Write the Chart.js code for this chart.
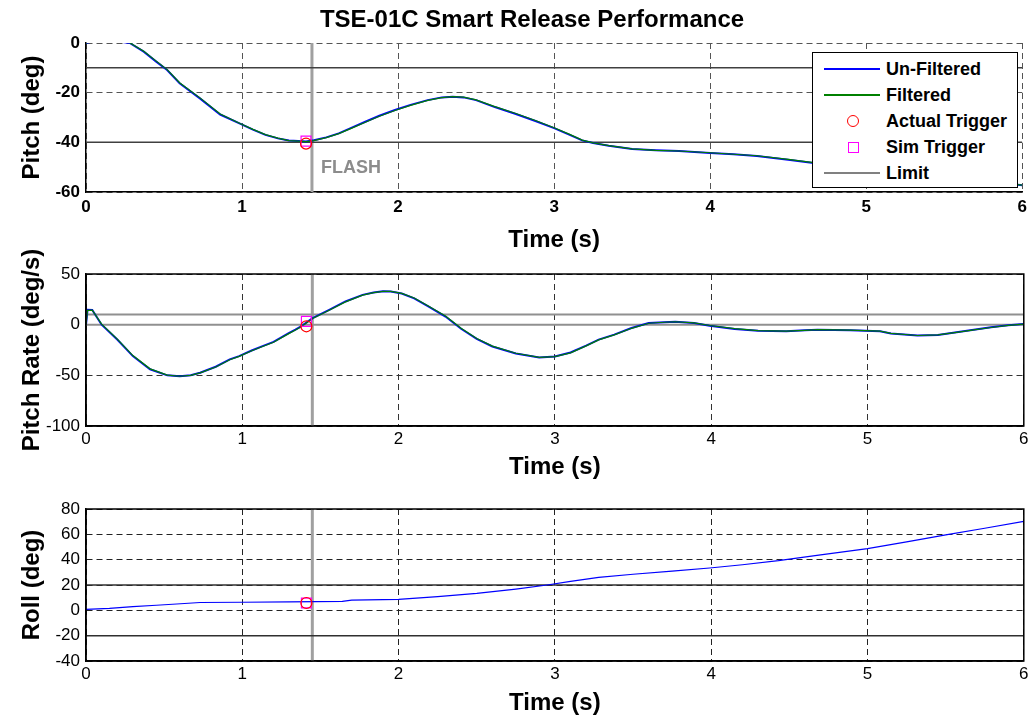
<!DOCTYPE html>
<html>
<head>
<meta charset="utf-8">
<script src="https://cdn.jsdelivr.net/npm/chart.js@4"></script>
<style>
html,body{margin:0;padding:0;background:#fff;}
body{width:1032px;height:719px;position:relative;overflow:hidden;font-family:"Liberation Sans",Arial,sans-serif;}
canvas{position:absolute;left:0;}
#title{position:absolute;top:5px;left:0;width:1064px;text-align:center;font-weight:bold;font-size:24px;line-height:28px;color:#000;z-index:5;}
#legend{position:absolute;left:812px;top:52px;width:206px;height:136px;box-sizing:border-box;border:1.5px solid #000;background:#fff;z-index:10;}
#legend .row{position:absolute;left:0;width:200px;height:26px;}
#legend .ln{position:absolute;left:11px;top:12px;width:56px;height:1.5px;}
#legend .circ{position:absolute;left:34px;top:7px;width:10px;height:10px;border:1px solid #ff0000;border-radius:50%;}
#legend .sq{position:absolute;left:35px;top:8px;width:9px;height:9px;border:1px solid #ff00ff;}
#legend .tx{position:absolute;left:73px;top:0;line-height:26px;font-weight:bold;font-size:18px;color:#000;white-space:nowrap;}
</style>
</head>
<body>
<div id="title">TSE-01C Smart Release Performance</div>
<canvas id="c1" width="1032" height="260" style="top:0px"></canvas>
<canvas id="c2" width="1032" height="255" style="top:235px"></canvas>
<canvas id="c3" width="1032" height="229" style="top:490px"></canvas>
<div id="legend">
  <div class="row" style="top:3px"><span class="ln" style="background:#0000ff"></span><span class="tx">Un-Filtered</span></div>
  <div class="row" style="top:29px"><span class="ln" style="background:#008000"></span><span class="tx">Filtered</span></div>
  <div class="row" style="top:55px"><span class="circ"></span><span class="tx">Actual Trigger</span></div>
  <div class="row" style="top:81px"><span class="sq"></span><span class="tx">Sim Trigger</span></div>
  <div class="row" style="top:107px"><span class="ln" style="background:#808080;height:2px"></span><span class="tx">Limit</span></div>
</div>
<script>
// ---------------- DATA ----------------
const xTicks = [0, 1, 2, 3, 4, 5, 6];

const timePitch = [0, 0.05, 0.1, 0.15, 0.2, 0.28, 0.37, 0.45, 0.52, 0.6, 0.73, 0.86, 0.98, 1.07, 1.15, 1.23, 1.3, 1.36, 1.41, 1.46, 1.54, 1.62, 1.7, 1.79, 1.88, 1.98, 2.08, 2.19, 2.28, 2.35, 2.42, 2.5, 2.62, 2.75, 2.88, 3.0, 3.1, 3.18, 3.25, 3.35, 3.5, 3.65, 3.8, 4.0, 4.15, 4.3, 4.5, 4.7, 4.85, 5.0, 5.25, 5.5, 5.75, 6.0];
const pitchUnfiltered = [0, 0.8, 1.2, 1.1, 0.7, 0, -3.5, -7.5, -10.9, -16.2, -22.3, -28.8, -32.3, -34.9, -37, -38.4, -39.3, -39.5, -39.7, -39.2, -38, -36.4, -34.2, -31.7, -29.3, -27, -24.9, -23, -21.9, -21.6, -21.9, -23, -25.8, -28.5, -31.4, -34.3, -37, -39.2, -40.3, -41.4, -42.7, -43.2, -43.5, -44.3, -44.8, -45.5, -47, -48.6, -49.5, -50.5, -52, -53.5, -55.5, -57.3];
const pitchFiltered   = [0, 0.7, 1.1, 1.1, 0.8, 0.1, -3.3, -7.3, -10.7, -16.0, -22.1, -28.6, -32.2, -34.8, -36.9, -38.3, -39.3, -39.5, -39.7, -39.3, -38.1, -36.5, -34.4, -31.9, -29.5, -27.2, -25.1, -23.1, -22.0, -21.6, -21.8, -22.9, -25.6, -28.3, -31.2, -34.1, -36.8, -39.1, -40.2, -41.3, -42.6, -43.2, -43.5, -44.2, -44.8, -45.4, -46.9, -48.5, -49.4, -50.4, -51.9, -53.4, -55.4, -57.2];

const timeRate = [0, 0.01, 0.04, 0.1, 0.2, 0.3, 0.41, 0.52, 0.6, 0.67, 0.73, 0.83, 0.92, 0.98, 1.06, 1.13, 1.2, 1.3, 1.34, 1.376, 1.45, 1.556, 1.66, 1.77, 1.84, 1.9, 1.95, 2.02, 2.1, 2.19, 2.3, 2.4, 2.5, 2.6, 2.75, 2.9, 3.0, 3.1, 3.2, 3.28, 3.38, 3.49, 3.6, 3.7, 3.77, 3.89, 3.99, 4.15, 4.3, 4.48, 4.6, 4.68, 4.89, 5.08, 5.15, 5.32, 5.45, 5.57, 5.68, 5.79, 5.9, 6.0];
const rateUnfiltered = [0, 14.7, 14.5, 0, -14.7, -31, -44, -50, -50.9, -50, -47.4, -41.5, -34.3, -31, -25.5, -21.2, -17, -8.2, -4.9, -1.6, 6.5, 14.7, 22.9, 29.4, 31.8, 32.9, 32.8, 30.7, 26, 18, 8, -4, -14, -21.5, -28.4, -32.3, -31.4, -27.5, -20.6, -14.7, -9.8, -3.3, 1.6, 2.5, 2.9, 1.6, -1, -4.2, -5.9, -6.5, -5.5, -4.9, -5.5, -6.5, -8.8, -10.8, -10.1, -7.5, -5, -2.6, -0.5, 0.6];
const rateFiltered   = [0, 14.2, 14.3, 0.5, -14.2, -30.5, -43.6, -49.8, -50.9, -50.1, -47.6, -41.8, -34.6, -31.3, -25.8, -21.5, -17.3, -8.6, -5.3, -2.0, 6.0, 14.3, 22.5, 29.1, 31.6, 32.8, 32.8, 30.9, 26.3, 18.4, 8.5, -3.5, -13.6, -21.2, -28.2, -32.2, -31.5, -27.8, -20.9, -15.0, -10.1, -3.6, 1.4, 2.4, 2.9, 1.7, -0.8, -4.0, -5.8, -6.4, -5.6, -4.9, -5.4, -6.4, -8.6, -10.7, -10.1, -7.7, -5.2, -2.8, -0.7, 0.5];

const timeRoll = [0, 0.15, 0.3, 0.45, 0.58, 0.73, 1.0, 1.3, 1.64, 1.7, 2.0, 2.25, 2.5, 2.75, 2.95, 3.1, 3.28, 3.5, 3.75, 3.99, 4.2, 4.43, 4.7, 5.0, 5.25, 5.51, 5.75, 6.0];
const rollUnfiltered = [0.8, 1.5, 3, 4, 5, 6.2, 6.4, 6.6, 7, 8, 8.7, 10.8, 13.4, 16.8, 20, 22.8, 26, 28.5, 31, 33.4, 36, 39.2, 43.8, 48.7, 54, 59.7, 64.8, 70.2];

const triggerTime = [1.41];
const actualTriggerValues = { pitch: [-40.5], rate: [-1.6], roll: [5.8] };
const simTriggerValues    = { pitch: [-39.5], rate: [3.2],  roll: [5.8] };

const flashTime = [1.448];
const pitchLimits = [-10, -40];
const rateLimits  = [10, 0];
const rollLimits  = [20, -20];

// ---------------- HELPERS ----------------
Chart.defaults.font.family = "'Liberation Sans', Arial, sans-serif";
Chart.defaults.color = '#000';

const pts = (ts, vs) => ts.map((t, i) => ({ x: t, y: vs[i] }));
const hline = (y) => [{ x: xTicks[0], y }, { x: xTicks[xTicks.length - 1], y }];
const vline = (x, y0, y1) => [{ x, y: y0 }, { x, y: y1 }];

function lineDs(data, color, width, order) {
  return { data, borderColor: color, borderWidth: width, pointRadius: 0, fill: false, tension: 0, order };
}
function markerDs(data, style, color, radius) {
  return { data, showLine: false, pointStyle: style, pointRadius: radius, pointBorderColor: color, pointBackgroundColor: 'rgba(0,0,0,0)', pointBorderWidth: 1.2, borderColor: color, order: 0 };
}

const boxPlugin = {
  id: 'box',
  afterDraw(chart, args, opts) {
    if (!opts.show) return;
    const { ctx, chartArea: a } = chart;
    ctx.save();
    ctx.strokeStyle = '#000';
    ctx.lineWidth = 1.5;
    ctx.strokeRect(a.left, a.top, a.right - a.left, a.bottom - a.top);
    ctx.restore();
  }
};

const flashPlugin = {
  id: 'flashLabel',
  afterDatasetsDraw(chart, args, opts) {
    if (!opts.show) return;
    const { ctx, scales } = chart;
    ctx.save();
    ctx.font = "bold 18px 'Liberation Sans', Arial, sans-serif";
    ctx.fillStyle = '#8c8c8c';
    ctx.textBaseline = 'alphabetic';
    ctx.textAlign = 'left';
    ctx.fillText('FLASH', scales.x.getPixelForValue(flashTime[0]) + 9, scales.y.getPixelForValue(opts.y));
    ctx.restore();
  }
};

function makeChart(id, o) {
  return new Chart(document.getElementById(id), {
    type: 'line',
    data: { datasets: o.datasets },
    options: {
      responsive: false,
      animation: false,
      devicePixelRatio: 1,
      layout: { padding: { top: o.padTop, right: 5, bottom: 0, left: 0 } },
      plugins: {
        legend: { display: false },
        tooltip: { enabled: false },
        title: { display: false },
        box: { show: o.box },
        flashLabel: { show: !!o.flash, y: o.flashY }
      },
      scales: {
        x: {
          type: 'linear', min: 0, max: 6,
          afterBuildTicks: s => { s.ticks = xTicks.map(v => ({ value: v })); },
          ticks: { autoSkip: false, maxRotation: 0, padding: o.xTickPad, color: '#000',
                   font: { size: 17, weight: o.bold ? 'bold' : 'normal' } },
          grid: { color: o.gridColor, lineWidth: 1, drawTicks: false },
          border: { display: true, color: '#000', width: 1.5, dash: [6, 4] },
          title: { display: true, text: 'Time (s)', color: '#000',
                   font: { size: 24, weight: 'bold', lineHeight: 1.2 },
                   padding: { top: 0, bottom: o.xTitlePad } },
          afterFit: s => { s.height = o.xHeight; }
        },
        y: {
          type: 'linear', min: o.yTicks[0], max: o.yTicks[o.yTicks.length - 1],
          afterBuildTicks: s => { s.ticks = o.yTicks.map(v => ({ value: v })); },
          ticks: { autoSkip: false, padding: 6, color: '#000',
                   font: { size: 17, weight: o.bold ? 'bold' : 'normal' } },
          grid: { color: o.gridColor, lineWidth: 1, drawTicks: false },
          border: { display: true, color: '#000', width: 1.5, dash: [6, 4] },
          title: { display: true, text: o.yTitle, color: '#000',
                   font: { size: 24, weight: 'bold', lineHeight: 1.2 },
                   padding: { top: 17.6, bottom: 0 } },
          afterFit: s => { s.width = 86; }
        }
      }
    },
    plugins: [boxPlugin, flashPlugin]
  });
}

// ---------------- CHART 1: Pitch ----------------
const pitchTicks = [-60, -40, -20, 0];
makeChart('c1', {
  padTop: 43, xHeight: 68, xTickPad: 5, xTitlePad: 5.6, bold: true, box: false,
  gridColor: '#555', yTicks: pitchTicks, yTitle: 'Pitch (deg)', flash: true, flashY: -52.5,
  datasets: [
    markerDs(pts(triggerTime, actualTriggerValues.pitch), 'circle', '#ff0000', 5.5),
    markerDs(pts(triggerTime, simTriggerValues.pitch), 'rect', '#ff00ff', 7),
    lineDs(pts(timePitch, pitchFiltered), '#008000', 1.2, 1),
    lineDs(pts(timePitch, pitchUnfiltered), '#0000ff', 2, 2),
    lineDs(hline(pitchLimits[0]), '#404040', 1.5, 3),
    lineDs(hline(pitchLimits[1]), '#404040', 1.5, 3),
    lineDs(vline(flashTime[0], pitchTicks[0], pitchTicks[pitchTicks.length - 1]), '#a0a0a0', 3, 4)
  ]
});

// ---------------- CHART 2: Pitch Rate ----------------
const rateTicks = [-100, -50, 0, 50];
makeChart('c2', {
  padTop: 39, xHeight: 64, xTickPad: 2.8, xTitlePad: 8.6, bold: false, box: true,
  gridColor: '#333', yTicks: rateTicks, yTitle: 'Pitch Rate (deg/s)',
  datasets: [
    markerDs(pts(triggerTime, actualTriggerValues.rate), 'circle', '#ff0000', 5.5),
    markerDs(pts(triggerTime, simTriggerValues.rate), 'rect', '#ff00ff', 7),
    lineDs(pts(timeRate, rateFiltered), '#008000', 1.2, 1),
    lineDs(pts(timeRate, rateUnfiltered), '#0000ff', 2, 2),
    lineDs(hline(rateLimits[0]), '#909090', 2, 3),
    lineDs(hline(rateLimits[1]), '#909090', 2, 3),
    lineDs(vline(flashTime[0], rateTicks[0], rateTicks[rateTicks.length - 1]), '#a0a0a0', 3, 4)
  ]
});

// ---------------- CHART 3: Roll ----------------
const rollTicks = [-40, -20, 0, 20, 40, 60, 80];
makeChart('c3', {
  padTop: 19, xHeight: 58, xTickPad: 2.8, xTitlePad: 1.6, bold: false, box: true,
  gridColor: '#222', yTicks: rollTicks, yTitle: 'Roll (deg)',
  datasets: [
    markerDs(pts(triggerTime, actualTriggerValues.roll), 'circle', '#ff0000', 5.5),
    markerDs(pts(triggerTime, simTriggerValues.roll), 'rect', '#ff00ff', 7),
    lineDs(pts(timeRoll, rollUnfiltered), '#0000ff', 1.2, 2),
    lineDs(hline(rollLimits[0]), '#303030', 1.5, 3),
    lineDs(hline(rollLimits[1]), '#303030', 1.5, 3),
    lineDs(vline(flashTime[0], rollTicks[0], rollTicks[rollTicks.length - 1]), '#a0a0a0', 3, 4)
  ]
});
</script>
</body>
</html>
